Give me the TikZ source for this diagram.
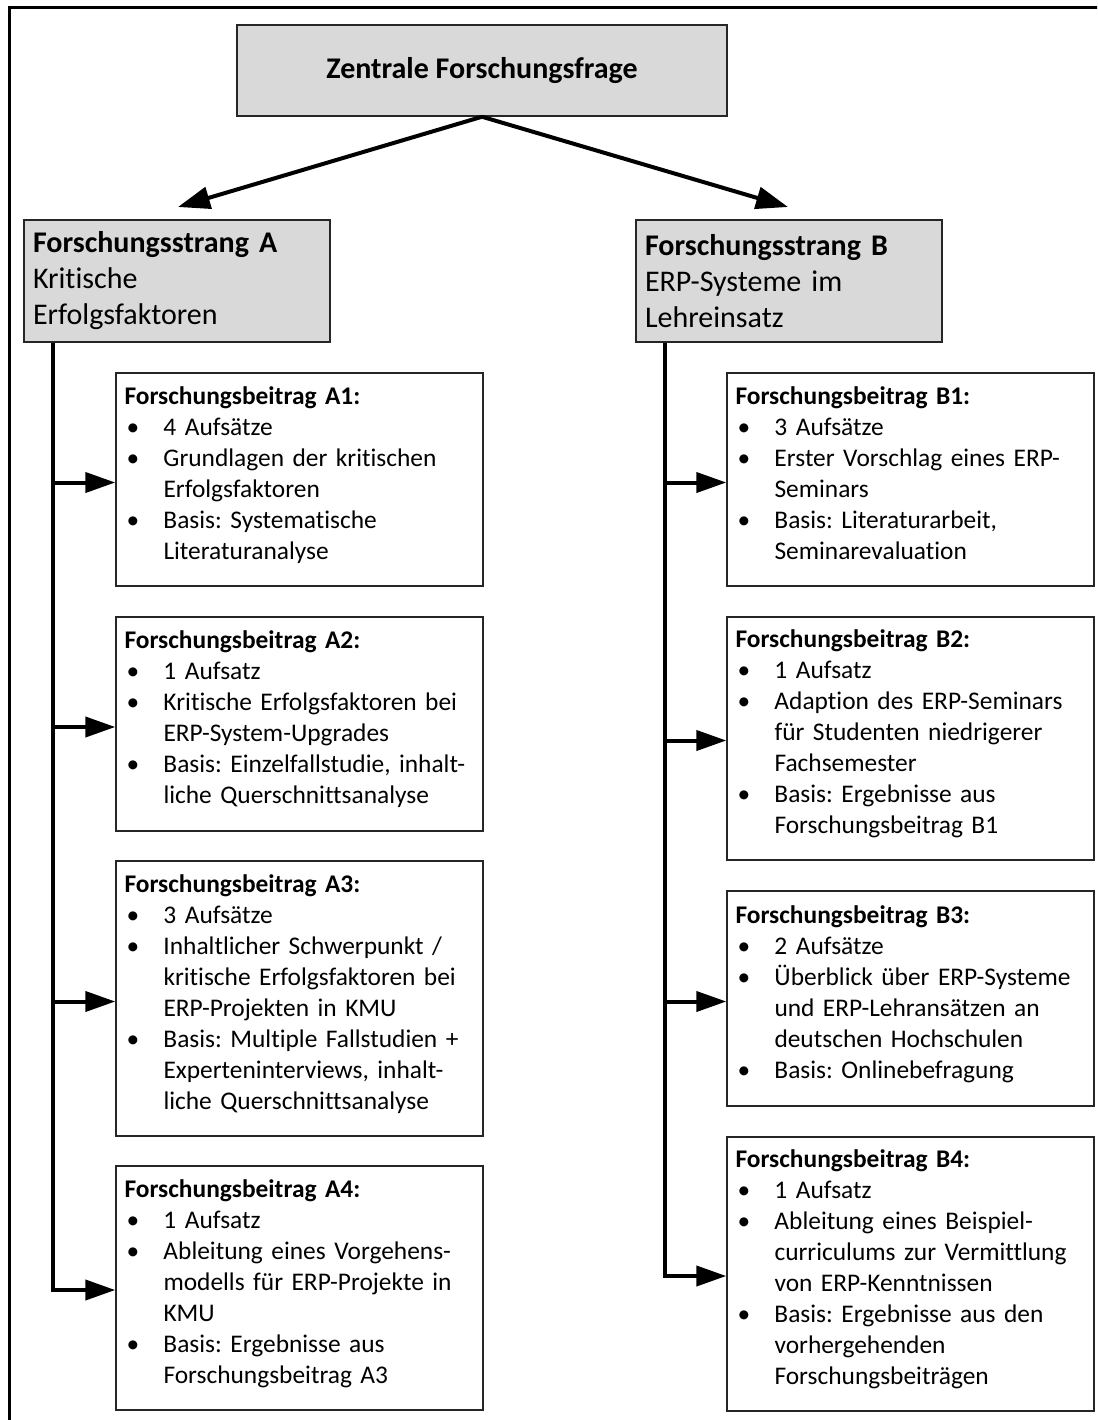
\documentclass[tikz,border=0pt]{standalone}
\usepackage{fontspec}
\setmainfont{Carlito}[Ligatures={NoCommon}]
\usetikzlibrary{arrows.meta}
\definecolor{boxgray}{HTML}{D9D9D9}
\newcommand\bitem{\makebox[39pt][l]{\hspace{2pt}\textbullet}}
\newcommand\bcont{\hspace*{39pt}}
\newcommand\lowstrut{\rule[-13pt]{0pt}{13pt}}
\begin{document}
\frenchspacing
\begin{tikzpicture}[x=1pt,y=-1pt,
  gbox/.style={draw=black!85, line width=1.5pt, fill=boxgray},
  titlebox/.style={gbox, minimum width=490pt, minimum height=91pt, font=\fontsize{30}{36}\selectfont\bfseries},
  strangbox/.style={gbox, minimum width=306pt, minimum height=122pt, text width=288pt, inner xsep=9pt, align=left, font=\fontsize{30}{36}\selectfont},
  bbox/.style={draw=black!85, line width=1.4pt, fill=white, minimum width=367pt, text width=350pt, inner xsep=8pt, align=left, font=\fontsize{25.4}{31}\selectfont, execute at end node=\lowstrut},
  arr/.style={line width=4pt, -{Triangle[length=30pt,width=20pt]}},
  toparr/.style={line width=4pt, -{Triangle[length=32pt,width=22pt]}}
]
\useasboundingbox (0,0) rectangle (1097,1420);
\clip (0,0) rectangle (1097,1420);
\fill[white] (0,0) rectangle (1097,1420);
% outer frame (only top and left edges visible)
\draw[line width=3pt] (9.5,1440) -- (9.5,7.5) -- (1120,7.5);

\node[titlebox] (T) at (482,70.5) {Zentrale Forschungsfrage};
\node[strangbox] (SA) at (177,281) {\textbf{Forschungsstrang A}\\Kritische\\Erfolgsfaktoren};
\node[strangbox] (SB) at (789,281) {\textbf{Forschungsstrang B}\\ERP-Systeme im\\Lehreinsatz};

\coordinate (tA) at (178,207);
\coordinate (tB) at (788,207);
\draw[toparr] (T.south) -- (tA);
\draw[toparr] (T.south) -- (tB);

\node[bbox, minimum height=213pt] (A1) at (299.5,479.5) {\textbf{Forschungsbeitrag A1:}\\
\bitem 4 Aufsätze\\
\bitem Grundlagen der kritischen\\
\bcont Erfolgsfaktoren\\
\bitem Basis: Systematische\\
\bcont Literaturanalyse};
\node[bbox, minimum height=214pt] (A2) at (299.5,724) {\textbf{Forschungsbeitrag A2:}\\
\bitem 1 Aufsatz\\
\bitem Kritische Erfolgsfaktoren bei\\
\bcont ERP-System-Upgrades\\
\bitem Basis: Einzelfallstudie, inhalt-\\
\bcont liche Querschnittsanalyse};
\node[bbox, minimum height=275pt] (A3) at (299.5,998.5) {\textbf{Forschungsbeitrag A3:}\\
\bitem 3 Aufsätze\\
\bitem Inhaltlicher Schwerpunkt /\\
\bcont kritische Erfolgsfaktoren bei\\
\bcont ERP-Projekten in KMU\\
\bitem Basis: Multiple Fallstudien +\\
\bcont Experteninterviews, inhalt-\\
\bcont liche Querschnittsanalyse};
\node[bbox, minimum height=244pt] (A4) at (299.5,1288) {\textbf{Forschungsbeitrag A4:}\\
\bitem 1 Aufsatz\\
\bitem Ableitung eines Vorgehens-\\
\bcont modells für ERP-Projekte in\\
\bcont KMU\\
\bitem Basis: Ergebnisse aus\\
\bcont Forschungsbeitrag A3};

\node[bbox, minimum height=213pt] (B1) at (910.5,479.5) {\textbf{Forschungsbeitrag B1:}\\
\bitem 3 Aufsätze\\
\bitem Erster Vorschlag eines ERP-\\
\bcont Seminars\\
\bitem Basis: Literaturarbeit,\\
\bcont Seminarevaluation};
\node[bbox, minimum height=243pt] (B2) at (910.5,738.5) {\textbf{Forschungsbeitrag B2:}\\
\bitem 1 Aufsatz\\
\bitem Adaption des ERP-Seminars\\
\bcont für Studenten niedrigerer\\
\bcont Fachsemester\\
\bitem Basis: Ergebnisse aus\\
\bcont Forschungsbeitrag B1};
\node[bbox, minimum height=215pt] (B3) at (910.5,998.5) {\textbf{Forschungsbeitrag B3:}\\
\bitem 2 Aufsätze\\
\bitem Überblick über ERP-Systeme\\
\bcont und ERP-Lehransätzen an\\
\bcont deutschen Hochschulen\\
\bitem Basis: Onlinebefragung};
\node[bbox, minimum height=274pt] (B4) at (910.5,1274) {\textbf{Forschungsbeitrag B4:}\\
\bitem 1 Aufsatz\\
\bitem Ableitung eines Beispiel-\\
\bcont curriculums zur Vermittlung\\
\bcont von ERP-Kenntnissen\\
\bitem Basis: Ergebnisse aus den\\
\bcont vorhergehenden\\
\bcont Forschungsbeiträgen};

% arrow end points on the box edges
\coordinate (eA1) at ([yshift=-3pt]A1.west);
\coordinate (eA2) at ([yshift=-3pt]A2.west);
\coordinate (eA3) at ([yshift=-3pt]A3.west);
\coordinate (eA4) at ([yshift=-2pt]A4.west);
\coordinate (eB1) at ([yshift=-3pt]B1.west);
\coordinate (eB2) at ([yshift=-2pt]B2.west);
\coordinate (eB3) at ([yshift=-3pt]B3.west);
\coordinate (eB4) at ([yshift=-2pt]B4.west);
% spines
\coordinate (spA) at ([xshift=30pt]SA.south west);
\coordinate (spB) at ([xshift=30pt]SB.south west);
\draw[arr] (spA) |- (eA4);
\draw[arr] (spA |- eA1) -- (eA1);
\draw[arr] (spA |- eA2) -- (eA2);
\draw[arr] (spA |- eA3) -- (eA3);
\draw[arr] (spB) |- (eB4);
\draw[arr] (spB |- eB1) -- (eB1);
\draw[arr] (spB |- eB2) -- (eB2);
\draw[arr] (spB |- eB3) -- (eB3);
\end{tikzpicture}
\end{document}
